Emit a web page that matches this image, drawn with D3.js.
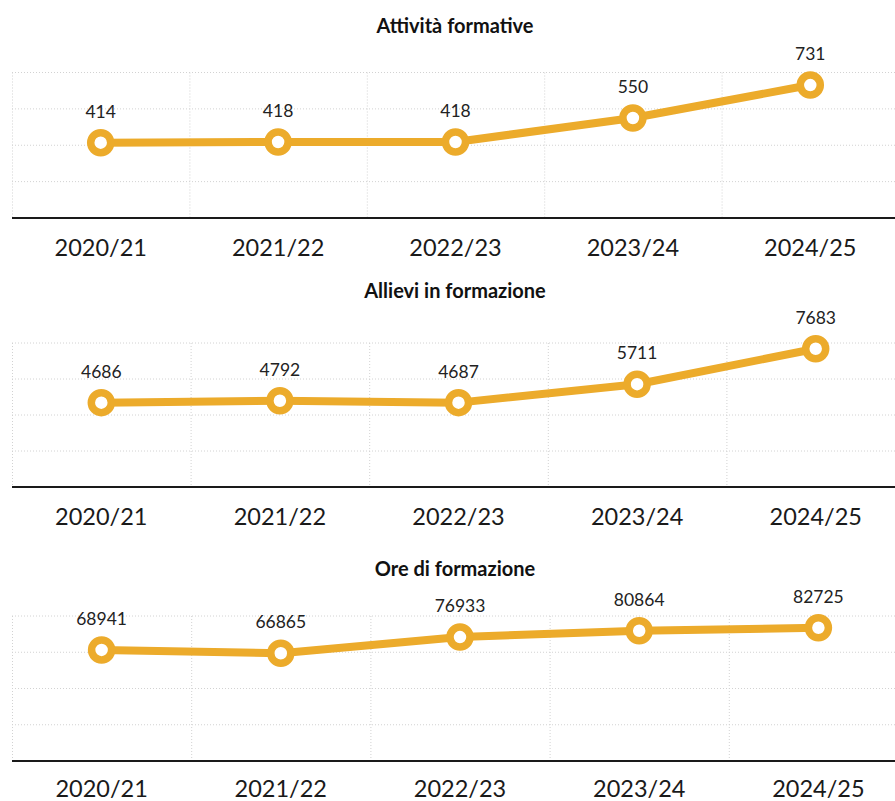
<!DOCTYPE html>
<html>
<head>
<meta charset="utf-8">
<script src="https://cdn.jsdelivr.net/npm/d3@7"></script>
<style>
  html, body { margin: 0; padding: 0; background: #fff; }
  svg { display: block; font-family: "Lato", "Noto Sans", sans-serif; }
</style>
</head>
<body>
<svg id="chart" width="895" height="801"></svg>
<script>
const categories = ["2020/21", "2021/22", "2022/23", "2023/24", "2024/25"];
const attivitaFormative = [414, 418, 418, 550, 731];
const allieviInFormazione = [4686, 4792, 4687, 5711, 7683];
const oreDiFormazione = [68941, 66865, 76933, 80864, 82725];
const panelTitles = ["Attività formative", "Allievi in formazione", "Ore di formazione"];
const yTicksAttivita = [0, 200, 400, 600, 800];
const yTicksAllievi = [0, 2000, 4000, 6000, 8000];
const yTicksOre = [0, 22500, 45000, 67500, 90000];

const panels = [
  { title: panelTitles[0], values: attivitaFormative, ticks: yTicksAttivita, titleY: 33, top: 72.5, base: 218, step: 177.4, labelDy: 38 },
  { title: panelTitles[1], values: allieviInFormazione, ticks: yTicksAllievi, titleY: 298, top: 343, base: 487, step: 178.6, labelDy: 38 },
  { title: panelTitles[2], values: oreDiFormazione, ticks: yTicksOre, titleY: 576, top: 616, base: 761, step: 179.2, labelDy: 36 }
];

const svg = d3.select("#chart");
const left = 12;
const lineColor = "#ECAB2B";

panels.forEach(p => {
  const g = svg.append("g");
  const x = d3.scaleBand().domain(categories).range([left, left + p.step * categories.length]).paddingInner(0).paddingOuter(0);
  const y = d3.scaleLinear().domain([0, d3.max(p.ticks)]).range([p.base, p.top]);

  // title
  g.append("text")
    .attr("x", 455).attr("y", p.titleY)
    .attr("text-anchor", "middle")
    .attr("font-size", 20).attr("font-weight", 700).attr("fill", "#111")
    .text(p.title);

  // horizontal gridlines
  g.selectAll(".hg").data(p.ticks.filter(t => t > 0)).join("line")
    .attr("x1", left).attr("x2", 895)
    .attr("y1", d => y(d)).attr("y2", d => y(d))
    .attr("stroke", "#d2d2d2").attr("stroke-width", 1).attr("stroke-dasharray", "1,2");

  // vertical gridlines at band boundaries
  const bounds = categories.map(c => x(c));
  g.selectAll(".vg").data(bounds).join("line")
    .attr("x1", d => d + 0.5).attr("x2", d => d + 0.5)
    .attr("y1", p.top).attr("y2", p.base)
    .attr("stroke", "#d2d2d2").attr("stroke-width", 1).attr("stroke-dasharray", "1,2");

  // baseline
  g.append("line")
    .attr("x1", left).attr("x2", 895)
    .attr("y1", p.base).attr("y2", p.base)
    .attr("stroke", "#1a1a1a").attr("stroke-width", 2);

  // x axis labels
  const axis = d3.axisBottom(x).tickSize(0).tickPadding(0);
  const ag = g.append("g").attr("transform", `translate(0,${p.base})`).call(axis);
  ag.select(".domain").remove();
  ag.selectAll("text")
    .attr("dy", null).attr("y", p.labelDy)
    .attr("font-family", "Lato, 'Noto Sans', sans-serif")
    .attr("font-size", 23.5).attr("fill", "#1a1a1a");

  const pts = categories.map((c, i) => ({ c, v: p.values[i] }));
  const cx = d => x(d.c) + x.bandwidth() / 2;

  // line
  g.append("path").datum(pts)
    .attr("fill", "none").attr("stroke", lineColor).attr("stroke-width", 8)
    .attr("stroke-linejoin", "round")
    .attr("d", d3.line().x(cx).y(d => y(d.v)));

  // markers
  g.selectAll(".pt").data(pts).join("circle")
    .attr("cx", cx).attr("cy", d => y(d.v)).attr("r", 10)
    .attr("fill", "#fff").attr("stroke", lineColor).attr("stroke-width", 7.5);

  // value labels
  g.selectAll(".lbl").data(pts).join("text")
    .attr("x", cx).attr("y", d => y(d.v) - 25)
    .attr("text-anchor", "middle")
    .attr("font-size", 17.5).attr("fill", "#222")
    .text(d => d.v);
});
</script>
</body>
</html>
